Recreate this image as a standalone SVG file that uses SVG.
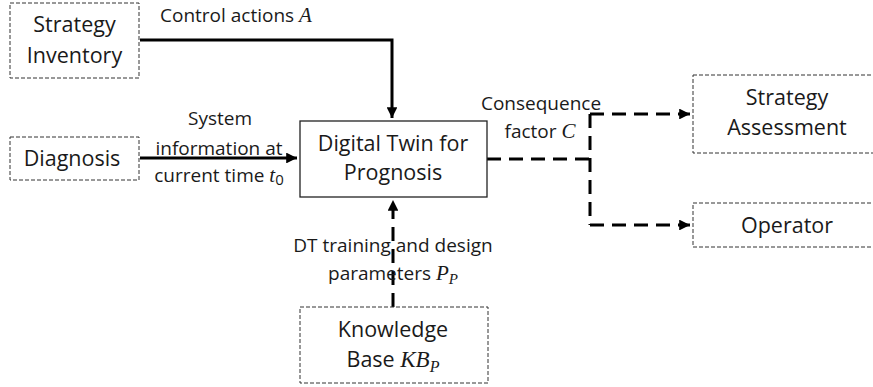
<svg xmlns="http://www.w3.org/2000/svg" width="873" height="387" viewBox="0 0 873 387">
<style>
.box{fill:#fff;stroke:#333;stroke-width:1;stroke-dasharray:4 2}
.solidbox{fill:#fff;stroke:#222;stroke-width:1.3}
.t{font-family:"Open Sans","Liberation Sans",sans-serif;fill:#1a1a1a}
.n{font-size:21.5px}
.l{font-size:19px}
.m{font-family:"Liberation Serif","DejaVu Serif",serif;font-style:italic}
.c{text-anchor:middle}
.solid{fill:none;stroke:#000;stroke-width:3}
.dash{fill:none;stroke:#000;stroke-width:3;stroke-dasharray:14 8}
</style>
<defs>
<marker id="ah" viewBox="0 0 10 10" refX="10" refY="5" markerWidth="4" markerHeight="3.6" orient="auto" markerUnits="strokeWidth">
<path d="M0,0 L10,5 L0,10 z" fill="#000"/>
</marker>
</defs>
<rect width="873" height="387" fill="#fff"/>
<g id="connectors">
<path class="solid" d="M140,40 H392 V118" marker-end="url(#ah)"/>
<path class="solid" d="M140,158 H297" marker-end="url(#ah)"/>
<path class="dash" d="M487,159 H590"/>
<path class="dash" d="M590,114 V225"/>
<path class="dash" d="M590,114 H690" marker-end="url(#ah)"/>
<path class="dash" d="M590,225 H690" marker-end="url(#ah)"/>
<path class="dash" d="M393,307 V200" marker-end="url(#ah)"/>
</g>
<g id="strategy-inventory">
<rect class="box" x="10" y="3" width="129" height="75"/>
<text class="t n c" x="74.5" y="32">Strategy</text>
<text class="t n c" x="74.5" y="63">Inventory</text>
</g>
<g id="diagnosis">
<rect class="box" x="10" y="137" width="129" height="43"/>
<text class="t n c" x="72" y="166">Diagnosis</text>
</g>
<g id="digital-twin">
<rect class="solidbox" x="300" y="121" width="187" height="76"/>
<text class="t n c" x="393" y="151">Digital Twin for</text>
<text class="t n c" x="393" y="180">Prognosis</text>
</g>
<g id="strategy-assessment">
<rect class="box" x="693" y="75" width="190" height="78"/>
<text class="t n c" x="787" y="105">Strategy</text>
<text class="t n c" x="787" y="135">Assessment</text>
</g>
<g id="operator">
<rect class="box" x="693" y="203" width="190" height="44"/>
<text class="t n c" x="787" y="233">Operator</text>
</g>
<g id="knowledge-base">
<rect class="box" x="300" y="307" width="188" height="76"/>
<text class="t n c" x="393" y="337">Knowledge</text>
<text class="t n c" x="393" y="367">Base <tspan class="m" font-size="23">KB</tspan><tspan class="m" font-size="16" dy="5">P</tspan></text>
</g>
<g id="labels">
<text class="t l" x="160" y="22">Control actions <tspan class="m" font-size="21">A</tspan></text>
<text class="t l c" x="220" y="125">System</text>
<text class="t l c" x="219" y="155">information at</text>
<text class="t l c" x="219" y="182">current time <tspan class="m" font-size="21">t</tspan><tspan font-size="15" dy="3">0</tspan></text>
<text class="t l c" x="541" y="110">Consequence</text>
<text class="t l c" x="540" y="138">factor <tspan class="m" font-size="21">C</tspan></text>
<text class="t l c" x="393" y="252">DT training and design</text>
<text class="t l c" x="393" y="280">parameters <tspan class="m" font-size="21">P</tspan><tspan class="m" font-size="15" dy="4">P</tspan></text>
</g>
</svg>
